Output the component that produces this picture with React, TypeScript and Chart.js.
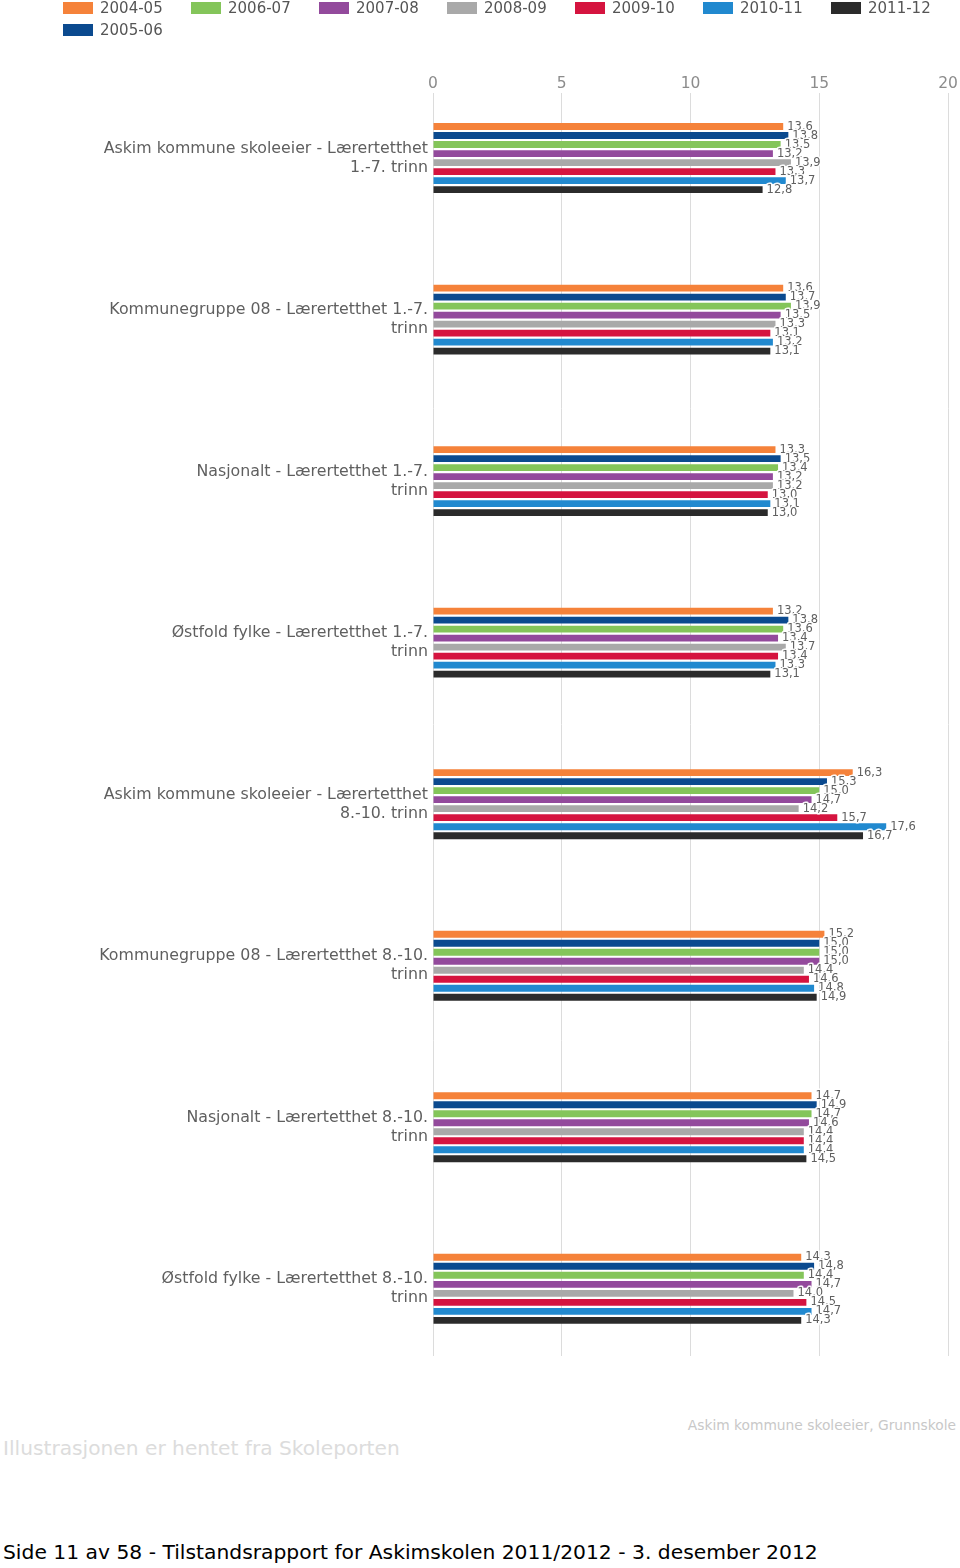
import React, { useEffect, useRef } from "react";
import { Chart, registerables } from "chart.js";

Chart.register(...registerables);

const categories: string[][] = [
  ["Askim kommune skoleeier - Lærertetthet", "1.-7. trinn"],
  ["Kommunegruppe 08 - Lærertetthet 1.-7.", "trinn"],
  ["Nasjonalt - Lærertetthet 1.-7.", "trinn"],
  ["Østfold fylke - Lærertetthet 1.-7.", "trinn"],
  ["Askim kommune skoleeier - Lærertetthet", "8.-10. trinn"],
  ["Kommunegruppe 08 - Lærertetthet 8.-10.", "trinn"],
  ["Nasjonalt - Lærertetthet 8.-10.", "trinn"],
  ["Østfold fylke - Lærertetthet 8.-10.", "trinn"],
];

const seriesNames = ["2004-05", "2005-06", "2006-07", "2007-08", "2008-09", "2009-10", "2010-11", "2011-12"];
const seriesColors = ["#F5823A", "#0B4A8F", "#84C55A", "#934A9C", "#A9A9A9", "#D5143F", "#2189CF", "#2B2B2B"];
const legendOrder = [0, 2, 3, 4, 5, 6, 7, 1];

const v2004_05 = [13.6, 13.6, 13.3, 13.2, 16.3, 15.2, 14.7, 14.3];
const v2005_06 = [13.8, 13.7, 13.5, 13.8, 15.3, 15.0, 14.9, 14.8];
const v2006_07 = [13.5, 13.9, 13.4, 13.6, 15.0, 15.0, 14.7, 14.4];
const v2007_08 = [13.2, 13.5, 13.2, 13.4, 14.7, 15.0, 14.6, 14.7];
const v2008_09 = [13.9, 13.3, 13.2, 13.7, 14.2, 14.4, 14.4, 14.0];
const v2009_10 = [13.3, 13.1, 13.0, 13.4, 15.7, 14.6, 14.4, 14.5];
const v2010_11 = [13.7, 13.2, 13.1, 13.3, 17.6, 14.8, 14.4, 14.7];
const v2011_12 = [12.8, 13.1, 13.0, 13.1, 16.7, 14.9, 14.5, 14.3];

const seriesValues = [v2004_05, v2005_06, v2006_07, v2007_08, v2008_09, v2009_10, v2010_11, v2011_12];

const xTicks = [0, 5, 10, 15, 20];

const valueLabels = {
  id: "valueLabels",
  afterDatasetsDraw(chart: any) {
    const ctx = chart.ctx as CanvasRenderingContext2D;
    ctx.save();
    ctx.font = '11.5px "DejaVu Sans"';
    ctx.textBaseline = "middle";
    ctx.textAlign = "left";
    ctx.lineJoin = "round";
    chart.data.datasets.forEach((_ds: any, di: number) => {
      const meta = chart.getDatasetMeta(di);
      meta.data.forEach((bar: any, i: number) => {
        const t = seriesValues[di][i].toFixed(1).replace(".", ",");
        ctx.strokeStyle = "rgba(255,255,255,0.95)";
        ctx.lineWidth = 3;
        ctx.strokeText(t, bar.x + 4, bar.y);
        ctx.fillStyle = "#606060";
        ctx.fillText(t, bar.x + 4, bar.y);
      });
    });
    ctx.restore();
  },
};

export default function App() {
  const ref = useRef<HTMLCanvasElement>(null);

  useEffect(() => {
    const chart = new Chart(ref.current as HTMLCanvasElement, {
      type: "bar",
      data: {
        datasets: seriesNames.map((name, s) => ({
          label: name,
          data: seriesValues[s].map((v, i) => ({ x: v, y: i })),
          backgroundColor: seriesColors[s],
          borderWidth: 0,
          categoryPercentage: 0.446,
          barPercentage: 0.76,
        })),
      },
      options: {
        indexAxis: "y",
        responsive: false,
        animation: false,
        layout: { padding: { top: 60, right: 12, bottom: 10, left: 0 } },
        plugins: { legend: { display: false }, tooltip: { enabled: false } },
        scales: {
          x: {
            type: "linear",
            position: "top",
            min: xTicks[0],
            max: xTicks[xTicks.length - 1],
            afterBuildTicks: (s: any) => {
              s.ticks = xTicks.map((v) => ({ value: v }));
            },
            ticks: {
              padding: 0,
              color: "#8c8c8c",
              font: { family: "DejaVu Sans", size: 15.5 },
            },
            grid: { color: "#dcdcdc", drawTicks: false },
            border: { display: false },
            afterFit: (a: any) => {
              a.height = 33;
            },
          },
          y: {
            type: "linear",
            reverse: true,
            offset: false,
            bounds: "data",
            min: -0.4027,
            max: 7.416,
            afterBuildTicks: (s: any) => {
              s.ticks = categories.map((_, i) => ({ value: i }));
            },
            ticks: {
              autoSkip: false,
              padding: 5,
              color: "#5f5f5f",
              font: { family: "DejaVu Sans", size: 15.8, lineHeight: "19px" },
              callback: (v: any) => categories[v] ?? "",
            },
            grid: { display: false, drawTicks: false, offset: false },
            border: { display: false },
            afterFit: (a: any) => {
              a.width = 433;
            },
          },
        },
      },
      plugins: [valueLabels],
    } as any);
    return () => chart.destroy();
  }, []);

  return (
    <div style={{ position: "absolute", left: 0, top: 0, width: 960, height: 1568, background: "#fff" }}>
      <canvas ref={ref} width={960} height={1380} style={{ position: "absolute", left: 0, top: 0 }} />
      <div
        style={{
          position: "absolute",
          left: 63,
          top: -3,
          width: 900,
          display: "flex",
          flexWrap: "wrap",
          fontFamily: "DejaVu Sans",
          fontSize: 15,
          color: "#555",
        }}
      >
        {legendOrder.map((idx) => (
          <div key={seriesNames[idx]} style={{ width: 128, height: 22, display: "flex", alignItems: "center", flexShrink: 0 }}>
            <span style={{ display: "inline-block", width: 30, height: 12, background: seriesColors[idx], marginRight: 7, flexShrink: 0 }} />
            <span style={{ whiteSpace: "nowrap" }}>{seriesNames[idx]}</span>
          </div>
        ))}
      </div>
      <div
        style={{
          position: "absolute",
          right: 4,
          top: 1417,
          lineHeight: "16px",
          fontFamily: "DejaVu Sans",
          fontSize: 13.8,
          color: "#c8c8c8",
          whiteSpace: "nowrap",
        }}
      >
        Askim kommune skoleeier, Grunnskole
      </div>
      <div
        style={{
          position: "absolute",
          left: 3,
          top: 1436,
          lineHeight: "24px",
          fontFamily: "DejaVu Sans",
          fontSize: 20.2,
          color: "#dcdcdc",
          whiteSpace: "nowrap",
        }}
      >
        Illustrasjonen er hentet fra Skoleporten
      </div>
      <div
        style={{
          position: "absolute",
          left: 3,
          top: 1540,
          lineHeight: "24px",
          fontFamily: "DejaVu Sans",
          fontSize: 20.3,
          color: "#000",
          whiteSpace: "nowrap",
        }}
      >
        Side 11 av 58 - Tilstandsrapport for Askimskolen 2011/2012 - 3. desember 2012
      </div>
    </div>
  );
}
